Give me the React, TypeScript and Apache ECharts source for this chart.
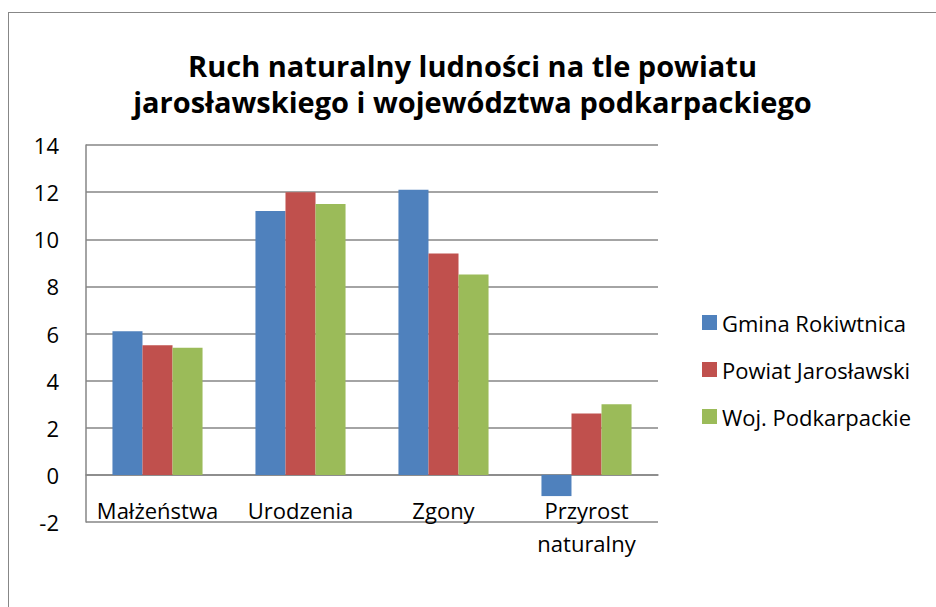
import React, { useEffect, useRef } from "react";
import * as echarts from "echarts";

const categories = ["Małżeństwa", "Urodzenia", "Zgony", "Przyrost\nnaturalny"];
const seriesNames = ["Gmina Rokiwtnica", "Powiat Jarosławski", "Woj. Podkarpackie"];
const gminaValues = [6.1, 11.2, 12.1, -0.9];
const powiatValues = [5.5, 12.0, 9.4, 2.6];
const wojValues = [5.4, 11.5, 8.5, 3.0];
const colors = ["#4F81BD", "#C0504D", "#9BBB59"];
const titleLines = [
  "Ruch naturalny ludności na tle powiatu",
  "jarosławskiego i województwa podkarpackiego",
];

const FONT = "'Open Sans', sans-serif";

export default function App() {
  const ref = useRef<HTMLDivElement>(null);
  useEffect(() => {
    if (!ref.current) return;
    const chart = echarts.init(ref.current, undefined, { renderer: "svg" });
    const values = [gminaValues, powiatValues, wojValues];
    const titlePadLeft = [24, 12];
    chart.setOption({
      animation: false,
      backgroundColor: "#ffffff",
      title: titleLines.map((t, i) => ({
        text: t,
        left: "center",
        top: 37 + i * 36,
        padding: [0, 0, 0, titlePadLeft[i]],
        textStyle: {
          fontFamily: FONT,
          fontWeight: "bold",
          fontSize: 29,
          lineHeight: 30,
          color: "#000000",
        },
      })),
      legend: {
        orient: "vertical",
        left: 688,
        top: 293,
        itemWidth: 15,
        itemHeight: 15,
        itemGap: 24,
        icon: "rect",
        textStyle: { fontFamily: FONT, fontSize: 22, lineHeight: 23, color: "#000000" },
        data: seriesNames,
      },
      grid: { left: 77, right: 278, top: 132, bottom: 85, containLabel: false },
      xAxis: {
        type: "category",
        data: categories,
        axisLine: { onZero: true, lineStyle: { color: "#868686", width: 1.5 } },
        axisTick: { show: false },
        axisLabel: {
          fontFamily: FONT,
          fontSize: 22,
          color: "#000000",
          margin: -29,
          lineHeight: 33,
          interval: 0,
        },
      },
      yAxis: {
        type: "value",
        min: -2,
        max: 14,
        interval: 2,
        axisLine: { show: true, lineStyle: { color: "#868686", width: 1.5 } },
        axisTick: { show: false },
        splitLine: { lineStyle: { color: "#868686", width: 1.5 } },
        axisLabel: { fontFamily: FONT, fontSize: 22, color: "#000000", margin: 27 },
      },
      series: seriesNames.map((name, i) => ({
        name,
        type: "bar",
        data: values[i],
        barGap: "0%",
        barCategoryGap: "37%",
        itemStyle: { color: colors[i] },
      })),
    });
    return () => chart.dispose();
  }, []);
  return (
    <div
      style={{
        position: "absolute",
        left: 8,
        top: 12,
        borderLeft: "1.5px solid #878787",
        borderTop: "1.5px solid #878787",
      }}
    >
      <div ref={ref} style={{ width: 927, height: 594 }} />
    </div>
  );
}
